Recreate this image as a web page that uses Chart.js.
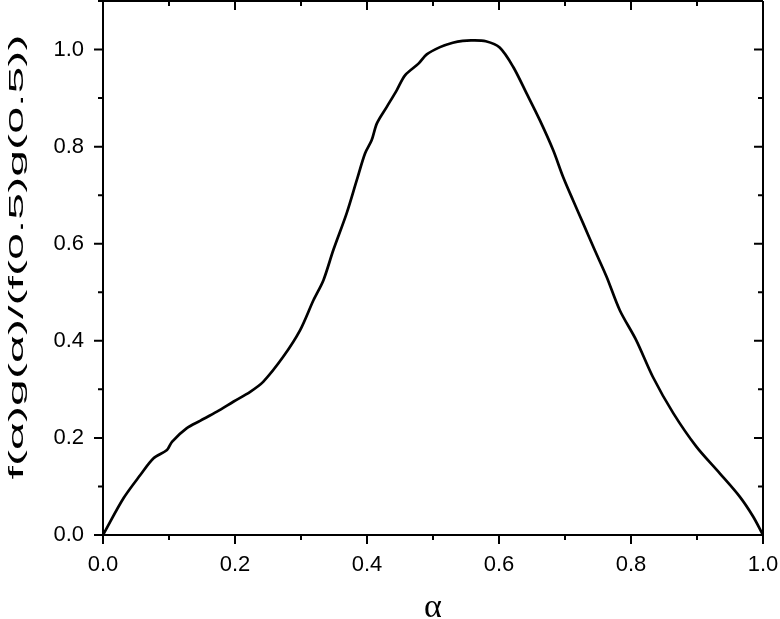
<!DOCTYPE html>
<html>
<head>
<meta charset="utf-8">
<script src="https://cdn.jsdelivr.net/npm/chart.js@4"></script>
<style>
  html, body { margin: 0; padding: 0; background: #fff; }
</style>
</head>
<body>
<canvas id="myChart" width="780" height="619"></canvas>
<script>
// values
var alpha = [0, 0.031, 0.0565, 0.0766, 0.0969, 0.1045, 0.127, 0.147, 0.1726, 0.198,
  0.223, 0.243, 0.273, 0.2987, 0.319, 0.334, 0.349, 0.369, 0.3845, 0.397,
  0.407, 0.415, 0.43, 0.445, 0.4576, 0.478, 0.4905, 0.5106, 0.53, 0.545,
  0.56, 0.58, 0.601, 0.6216, 0.642, 0.662, 0.682, 0.697, 0.712, 0.7275,
  0.745, 0.763, 0.783, 0.808, 0.833, 0.864, 0.899, 0.9345, 0.9647, 0.985, 1.0];
var ratio = [0, 0.0756, 0.1235, 0.158, 0.175, 0.192, 0.22, 0.235, 0.254, 0.275,
  0.295, 0.316, 0.367, 0.422, 0.484, 0.525, 0.587, 0.662, 0.731, 0.786,
  0.813, 0.848, 0.882, 0.916, 0.947, 0.971, 0.99, 1.005, 1.014, 1.018,
  1.019, 1.017, 1.004, 0.964, 0.909, 0.854, 0.793, 0.738, 0.69, 0.642,
  0.587, 0.532, 0.463, 0.401, 0.326, 0.251, 0.182, 0.127, 0.079, 0.038, 0];

var xRange = [0, 1];
var yRange = [0, 1.1];
var tickStep = 0.1;
var xTitle = "α";
var yTitle = "f(α)g(α)/(f(0.5)g(0.5))";

var fontFamily = "'Liberation Sans', Arial, sans-serif";

function majorLabel(v) {
  var n = Math.round(v * 10);
  return n % 2 === 0 ? (n / 10).toFixed(1) : "";
}

function noPadding(s) {
  s.paddingTop = 0;
  s.paddingBottom = 0;
  s.paddingLeft = 0;
  s.paddingRight = 0;
}

// frame + tick marks (outward on left/bottom, inward on top/right), stretched y title
var frameTicks = {
  id: "frameTicks",
  afterDraw: function(chart) {
    var c = chart.ctx, a = chart.chartArea;
    var xs = chart.scales.x, ys = chart.scales.y;
    c.save();
    c.strokeStyle = "#000";
    c.lineWidth = 2;
    c.beginPath();
    c.moveTo(a.left, a.top); c.lineTo(a.right, a.top);
    c.moveTo(a.right, a.top); c.lineTo(a.right, a.bottom);
    c.stroke();
    c.beginPath();
    xs.ticks.forEach(function(t) {
      var px = xs.getPixelForValue(t.value);
      var len = majorLabel(t.value) ? 9 : 5;
      c.moveTo(px, a.bottom); c.lineTo(px, a.bottom + len);
      c.moveTo(px, a.top); c.lineTo(px, a.top + len);
    });
    ys.ticks.forEach(function(t) {
      var py = ys.getPixelForValue(t.value);
      var len = majorLabel(t.value) ? 9 : 5;
      c.moveTo(a.left - len, py); c.lineTo(a.left, py);
      c.moveTo(a.right - len, py); c.lineTo(a.right, py);
    });
    c.stroke();

    // y title, drawn long like in the original figure
    c.font = "21px " + fontFamily;
    c.fillStyle = "#000";
    c.textAlign = "center";
    c.textBaseline = "middle";
    var w = c.measureText(yTitle).width;
    c.translate(17, 257);
    c.rotate(-Math.PI / 2);
    c.scale(445 / w, 1);
    c.fillText(yTitle, 0, 0);
    c.restore();
  }
};

var points = alpha.map(function(a, i) { return { x: a, y: ratio[i] }; });

const ctx = document.getElementById("myChart").getContext("2d");
var chart = new Chart(ctx, {
  type: "line",
  data: {
    datasets: [
      {
        data: points,
        borderColor: "#000",
        borderWidth: 2.7,
        pointRadius: 0,
        fill: false,
        tension: 0.3
      }
    ]
  },
  options: {
    responsive: false,
    animation: false,
    layout: { padding: { top: 1, right: 17, left: 0, bottom: 0 } },
    plugins: { legend: { display: false }, tooltip: { enabled: false } },
    scales: {
      x: {
        type: "linear",
        min: xRange[0],
        max: xRange[1],
        border: { display: true, color: "#000", width: 2 },
        grid: { display: false, drawTicks: false },
        ticks: {
          stepSize: tickStep,
          autoSkip: false,
          maxRotation: 0,
          padding: 17,
          color: "#000",
          font: { family: fontFamily, size: 22 },
          callback: majorLabel
        },
        title: {
          display: true,
          text: xTitle,
          color: "#000",
          font: { family: "'Liberation Serif', 'Times New Roman', serif", size: 34, lineHeight: 1 },
          padding: { top: 0, bottom: -6 }
        },
        afterFit: function(s) { s.height = 84; noPadding(s); }
      },
      y: {
        min: yRange[0],
        max: yRange[1],
        border: { display: true, color: "#000", width: 2 },
        grid: { display: false, drawTicks: false },
        ticks: {
          stepSize: tickStep,
          autoSkip: false,
          padding: 19,
          color: "#000",
          font: { family: fontFamily, size: 22 },
          callback: majorLabel
        },
        title: { display: false, text: yTitle },
        afterFit: function(s) { s.width = 103; noPadding(s); }
      }
    }
  },
  plugins: [frameTicks]
});
</script>
</body>
</html>
